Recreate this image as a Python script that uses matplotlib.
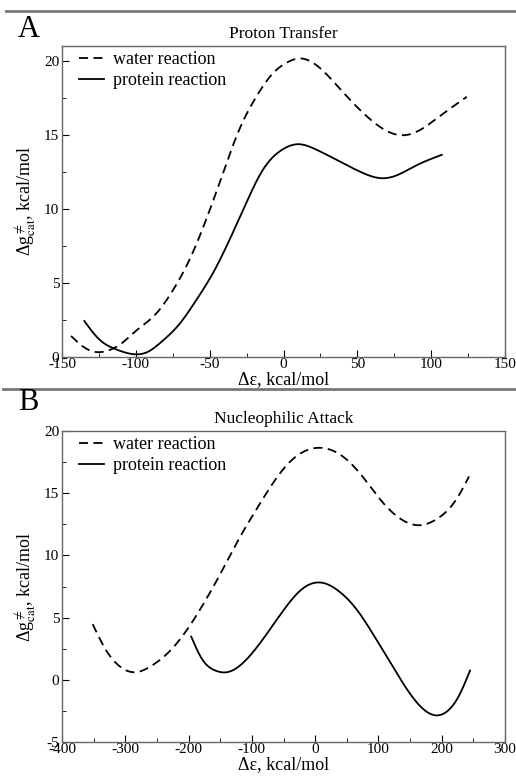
import numpy as np
from matplotlib import pyplot as plt
from matplotlib.lines import Line2D
from matplotlib.ticker import MultipleLocator

plt.rcParams['font.family'] = ['Liberation Serif', 'DejaVu Serif']
plt.rcParams['mathtext.fontset'] = 'stix'
plt.rcParams['axes.unicode_minus'] = False

# Panel A - proton transfer
pt_water_x = [-143.9, -135, -128, -120, -109, -100, -86.5, -75.2, -64, -52.7, -41.4,
              -30.2, -18.9, -7.7, 3.6, 10.4, 19.4, 37.4, 48.6, 59.9, 71.2, 82.4,
              93.7, 105, 124.1]
pt_water_y = [1.42, 0.65, 0.35, 0.4, 0.97, 1.76, 2.9, 4.46, 6.5, 9.2, 12.3,
              15.3, 17.5, 19.1, 19.95, 20.16, 19.9, 18.2, 17.0, 15.95, 15.2, 14.98,
              15.4, 16.2, 17.57]
pt_protein_x = [-134.9, -124.8, -113.5, -100, -93.2, -82, -70.7, -59.5, -48.2, -36.9,
                -25.7, -14.4, -0.9, 10.4, 21.6, 37.4, 53.2, 66.7, 75.7, 89.2, 107.2]
pt_protein_y = [2.43, 1.19, 0.52, 0.18, 0.29, 1.08, 2.2, 3.78, 5.59, 7.84,
                10.3, 12.57, 14.0, 14.37, 14.03, 13.24, 12.45, 12.07, 12.23, 12.9, 13.65]

# Panel B - nucleophilic attack
na_water_x = [-351.6, -331.6, -310.5, -284.2, -257.9, -231.6, -200, -173.7, -147.4,
              -121, -94.7, -68.4, -42.1, -15.8, 15.8, 47.4, 78.9, 105.3, 136.8,
              165.8, 194.7, 221, 243.2]
na_water_y = [4.48, 2.48, 1.15, 0.61, 1.15, 2.21, 4.21, 6.35, 8.75,
              11.28, 13.55, 15.68, 17.41, 18.4, 18.61, 17.81, 16.08, 14.35, 12.88,
              12.43, 13.01, 14.35, 16.35]
na_protein_x = [-195.8, -178.9, -157.9, -139.5, -115.8, -84.2, -52.6, -21.1, 10.5,
                36.8, 63.2, 94.7, 126.3, 157.9, 189.5, 210.5, 228.9, 244.7]
na_protein_y = [3.47, 1.68, 0.75, 0.61, 1.28, 3.15, 5.41, 7.28, 7.81,
                7.15, 5.81, 3.41, 0.75, -1.65, -2.85, -2.45, -1.12, 0.75]


def spline(x, y, n=400):
    # natural cubic spline through the read points
    x = np.asarray(x, float)
    y = np.asarray(y, float)
    m = len(x)
    h = np.diff(x)
    A = np.zeros((m, m))
    r = np.zeros(m)
    A[0, 0] = A[-1, -1] = 1
    for i in range(1, m - 1):
        A[i, i - 1] = h[i - 1]
        A[i, i] = 2 * (h[i - 1] + h[i])
        A[i, i + 1] = h[i]
        r[i] = 6 * ((y[i + 1] - y[i]) / h[i] - (y[i] - y[i - 1]) / h[i - 1])
    M = np.linalg.solve(A, r)
    xs = np.linspace(x[0], x[-1], n)
    k = np.clip(np.searchsorted(x, xs) - 1, 0, m - 2)
    t0 = x[k + 1] - xs
    t1 = xs - x[k]
    hk = h[k]
    ys = (M[k] * t0**3 / (6 * hk) + M[k + 1] * t1**3 / (6 * hk)
          + (y[k] / hk - M[k] * hk / 6) * t0
          + (y[k + 1] / hk - M[k + 1] * hk / 6) * t1)
    return xs, ys


def draw(ax, wx, wy, px, py, xlim, ylim, xmaj, xmin, title):
    ax.plot(*spline(wx, wy), color='black', lw=1.3, ls=(0, (5, 3)),
            label='water reaction')
    ax.plot(*spline(px, py), color='black', lw=1.3, label='protein reaction')
    ax.set_xlim(*xlim)
    ax.set_ylim(*ylim)
    ax.xaxis.set_major_locator(MultipleLocator(xmaj))
    ax.xaxis.set_minor_locator(MultipleLocator(xmin))
    ax.yaxis.set_major_locator(MultipleLocator(5))
    ax.yaxis.set_minor_locator(MultipleLocator(2.5))
    ax.tick_params(which='both', direction='in', top=False, right=False,
                   labelsize=11)
    ax.tick_params(axis='x', pad=1)
    ax.tick_params(axis='y', pad=2)
    ax.tick_params(which='major', length=5)
    ax.tick_params(which='minor', length=3)
    for s in ax.spines.values():
        s.set_color('#666666')
        s.set_linewidth(1.0)
    ax.set_title(title, fontsize=12.5, pad=6)
    ax.set_xlabel('Δε, kcal/mol', fontsize=13, labelpad=0)
    ax.set_ylabel(r'Δg$^{\neq}_{\rm cat}$, kcal/mol', fontsize=13, labelpad=4)
    ax.legend(loc='upper left', frameon=False, fontsize=13, handlelength=1.4,
              borderaxespad=0.1, labelspacing=0.2, handletextpad=0.5,
              borderpad=0.2, bbox_to_anchor=(0.025, 1.0))


fig = plt.figure(figsize=(5.16, 7.81), dpi=100)
ax1 = fig.add_axes([0.1202, 0.5429, 0.8585, 0.3982])
ax2 = fig.add_axes([0.1202, 0.0499, 0.8585, 0.3982])

draw(ax1, pt_water_x, pt_water_y, pt_protein_x, pt_protein_y,
     (-150, 150), (0, 21), 50, 25, 'Proton Transfer')
draw(ax2, na_water_x, na_water_y, na_protein_x, na_protein_y,
     (-400, 300), (-5, 20), 100, 50, 'Nucleophilic Attack')

fig.add_artist(Line2D([0.012, 1.0], [0.986, 0.986], color='#777777', lw=2))
fig.add_artist(Line2D([0.006, 1.0], [0.502, 0.502], color='#777777', lw=2))
fig.text(0.035, 0.962, 'A', fontsize=22, va='center')
fig.text(0.035, 0.484, 'B', fontsize=22, va='center')

fig.savefig('out.png', dpi=100)
